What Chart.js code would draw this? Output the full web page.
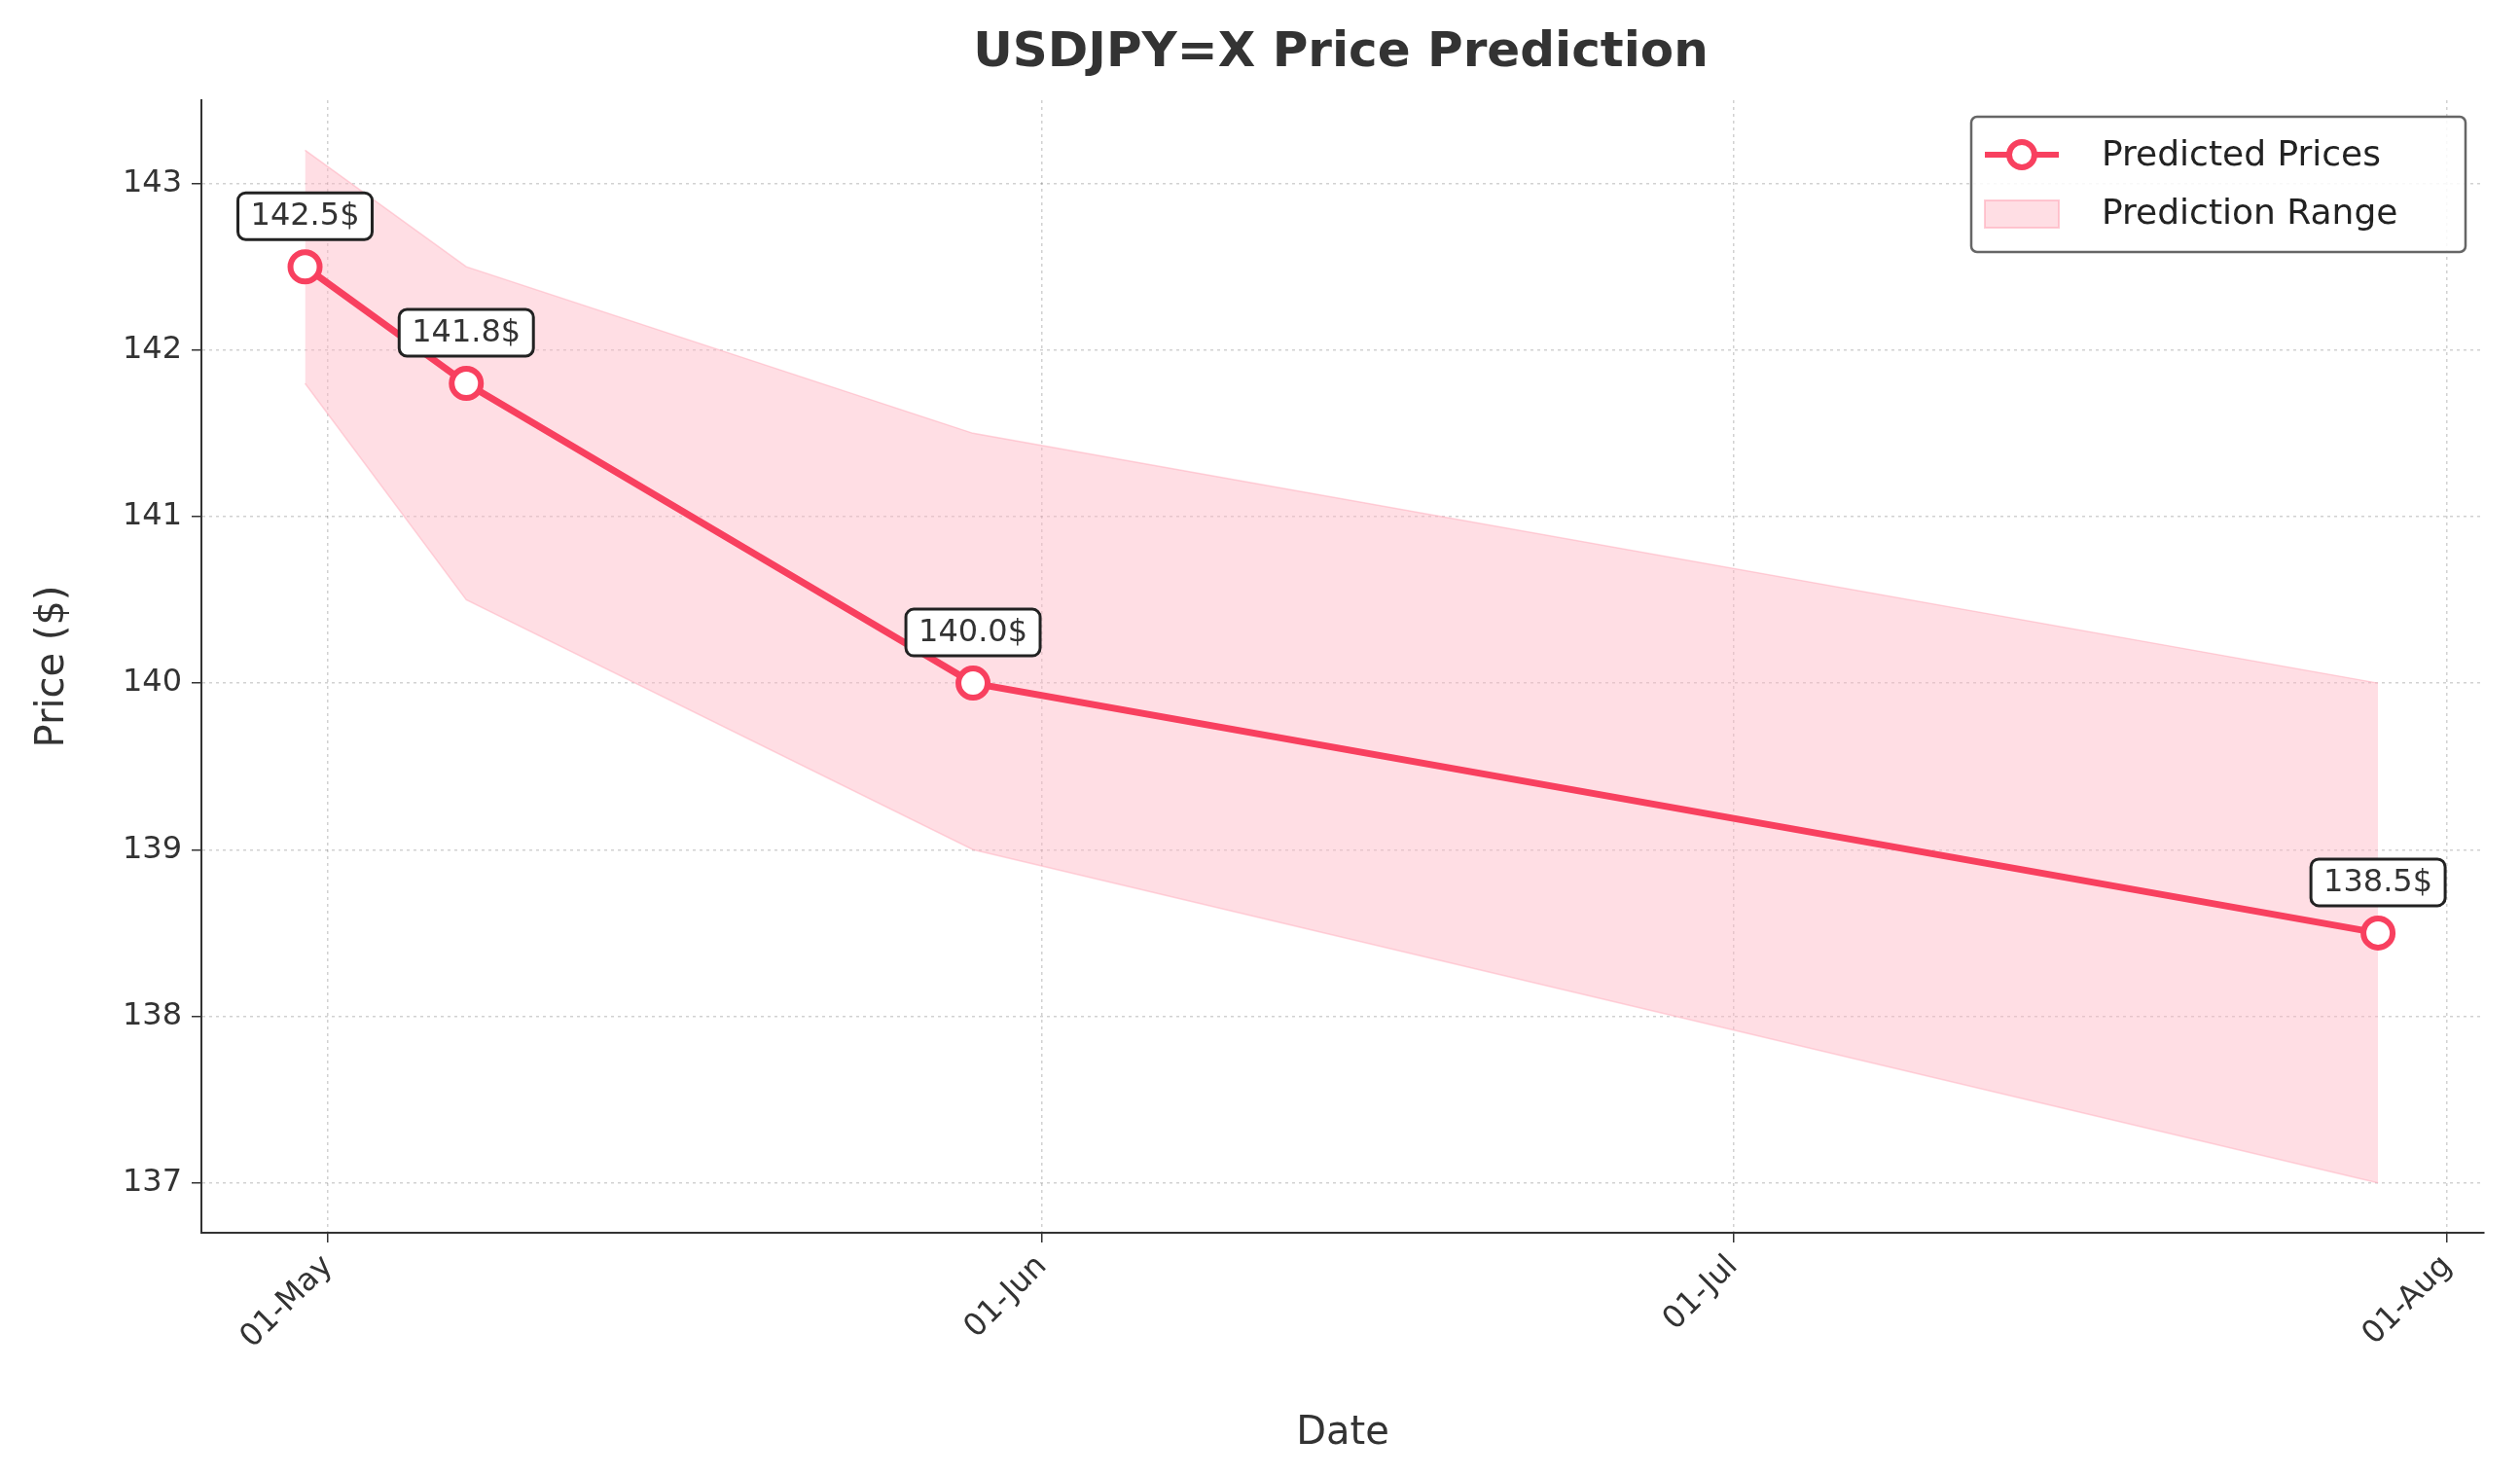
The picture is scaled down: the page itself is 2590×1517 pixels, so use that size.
<!DOCTYPE html>
<html><head><meta charset="utf-8">
<script src="https://cdn.jsdelivr.net/npm/chart.js@4.4.1/dist/chart.umd.min.js"></script>
<style>body{margin:0;background:#fff}canvas{display:block}</style>
</head><body>
<canvas id="c" width="2590" height="1517"></canvas>
<script>
// days counted from 01-May
const dayOffsets = [-1, 6, 28, 89];
const predicted = [142.5, 141.8, 140.0, 138.5];
const upper = [143.2, 142.5, 141.5, 140.0];
const lower = [141.8, 140.5, 139.0, 137.0];
const xTickDays = [0, 31, 61, 92];
const xTickLabels = ['01-May', '01-Jun', '01-Jul', '01-Aug'];
const yTicks = [137, 138, 139, 140, 141, 142, 143];

const RED = '#f8405f';
const FILL = 'rgba(255,182,196,0.45)';
const FONT = 'DejaVu Sans';
const pts = arr => dayOffsets.map((d, i) => ({x: d, y: arr[i]}));

const overlay = {
  id: 'overlay',
  afterDatasetsDraw(chart) {
    const {ctx, scales: {x, y}, chartArea: a} = chart;
    ctx.save();
    // labels above points
    ctx.font = `32px "${FONT}"`;
    ctx.textAlign = 'center'; ctx.textBaseline = 'middle';
    dayOffsets.forEach((d, i) => {
      const px = x.getPixelForValue(d), py = y.getPixelForValue(predicted[i]) - 52;
      const t = predicted[i].toFixed(1) + '$';
      const w = ctx.measureText(t).width + 26, h = 48;
      ctx.beginPath(); ctx.roundRect(px - w / 2, py - h / 2, w, h, 8);
      ctx.fillStyle = '#fff'; ctx.fill();
      ctx.lineWidth = 3; ctx.strokeStyle = '#222'; ctx.stroke();
      ctx.fillStyle = '#333'; ctx.fillText(t, px, py + 1);
    });
    // legend
    const lx = 2026, ly = 120, lw = 508, lh = 139;
    ctx.beginPath(); ctx.roundRect(lx, ly, lw, lh, 6);
    ctx.fillStyle = 'rgba(255,255,255,0.85)'; ctx.fill();
    ctx.lineWidth = 2.5; ctx.strokeStyle = '#666'; ctx.stroke();
    ctx.strokeStyle = RED; ctx.lineWidth = 6;
    ctx.beginPath(); ctx.moveTo(lx + 14, ly + 39); ctx.lineTo(lx + 90, ly + 39); ctx.stroke();
    ctx.beginPath(); ctx.arc(lx + 52, ly + 39, 13, 0, Math.PI * 2);
    ctx.fillStyle = '#fff'; ctx.fill(); ctx.stroke();
    ctx.fillStyle = FILL; ctx.fillRect(lx + 14, ly + 86, 76, 28);
    ctx.strokeStyle = 'rgba(255,170,185,0.6)'; ctx.lineWidth = 2; ctx.strokeRect(lx + 14, ly + 86, 76, 28);
    ctx.fillStyle = '#222'; ctx.textAlign = 'left'; ctx.font = `36px "${FONT}"`;
    ctx.fillText('Predicted Prices', lx + 134, ly + 41);
    ctx.fillText('Prediction Range', lx + 134, ly + 101);
    // titles
    ctx.textAlign = 'center'; ctx.fillStyle = '#333';
    ctx.font = `bold 50px "${FONT}"`;
    ctx.fillText('USDJPY=X Price Prediction', 1378, 55);
    ctx.font = `40px "${FONT}"`;
    ctx.fillText('Date', 1380, 1474);
    ctx.translate(55, (a.top + a.bottom) / 2); ctx.rotate(-Math.PI / 2);
    ctx.fillText('Price ($)', 0, 0);
    ctx.restore();
  }
};

new Chart(document.getElementById('c'), {
  type: 'line',
  data: {datasets: [
    {data: pts(upper), order: 2, borderWidth: 1.5, borderColor: 'rgba(255,170,185,0.5)', pointRadius: 0, fill: '+1', backgroundColor: FILL, tension: 0},
    {data: pts(lower), order: 2, borderWidth: 1.5, borderColor: 'rgba(255,170,185,0.5)', pointRadius: 0, fill: false, tension: 0},
    {data: pts(predicted), order: 0, borderColor: RED, borderWidth: 7, pointRadius: 15, pointBorderWidth: 6,
     pointBackgroundColor: '#fff', pointBorderColor: RED, fill: false, tension: 0}
  ]},
  options: {
    responsive: false, animation: false, devicePixelRatio: 1,
    layout: {padding: {top: 103, right: 37, left: 0, bottom: 0}},
    plugins: {legend: {display: false}, tooltip: {enabled: false}},
    scales: {
      x: {type: 'linear', min: -5.5, max: 93.6,
        afterBuildTicks: s => { s.ticks = xTickDays.map(v => ({value: v})); },
        afterFit: s => { s.height = 250; },
        ticks: {callback: v => xTickLabels[xTickDays.indexOf(v)], maxRotation: 45, minRotation: 45,
          font: {family: FONT, size: 32}, color: '#333', padding: 6},
        grid: {color: 'rgba(0,0,0,0.18)', tickColor: '#333', tickLength: 10, lineWidth: 1.5},
        border: {display: true, color: '#333', width: 2, dash: [3, 4]}},
      y: {min: 136.7, max: 143.5,
        afterBuildTicks: s => { s.ticks = yTicks.map(v => ({value: v})); },
        afterFit: s => { s.width = 207; },
        ticks: {font: {family: FONT, size: 32}, color: '#333', padding: 10},
        grid: {color: 'rgba(0,0,0,0.18)', tickColor: '#333', tickLength: 10, lineWidth: 1.5},
        border: {display: true, color: '#333', width: 2, dash: [3, 4]}}
    }
  },
  plugins: [overlay]
});
</script>
</body></html>
